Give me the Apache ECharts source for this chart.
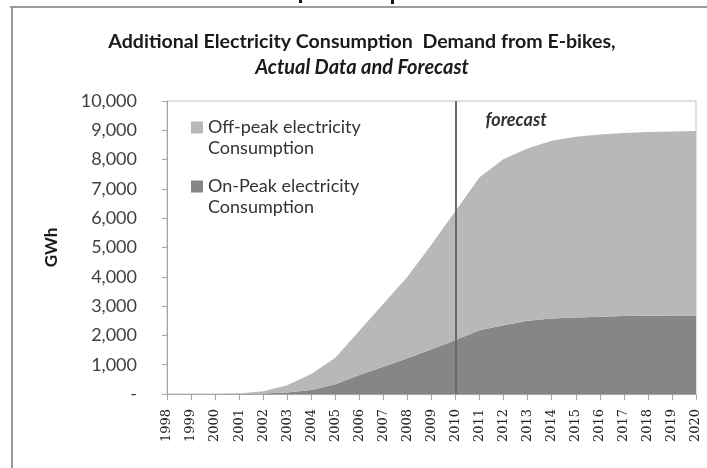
<!DOCTYPE html>
<html>
<head>
<meta charset="utf-8">
<script src="https://cdn.jsdelivr.net/npm/echarts@6/dist/echarts.min.js"></script>
<style>html,body{margin:0;padding:0;background:#fff;}#c{width:707px;height:468px;}</style>
</head>
<body>
<div id="c"></div>
<script>
var years = ['1998','1999','2000','2001','2002','2003','2004','2005','2006','2007','2008','2009','2010','2011','2012','2013','2014','2015','2016','2017','2018','2019','2020'];
var onPeak = [0,0,0,5,15,50,140,330,650,930,1220,1530,1840,2180,2350,2500,2580,2615,2640,2660,2670,2680,2680];
var offPeak = [0,0,0,15,75,250,540,910,1510,2150,2780,3570,4410,5220,5670,5880,6060,6165,6220,6250,6270,6280,6300];
var yTicks = [0,1000,2000,3000,4000,5000,6000,7000,8000,9000,10000];
var forecastYear = '2010';
var titleText = 'Additional Electricity Consumption  Demand from E-bikes,';
var subtitleText = 'Actual Data and Forecast';
var offName = 'Off-peak electricity\nConsumption';
var onName = 'On-Peak electricity\nConsumption';

var chart = echarts.init(document.getElementById('c'));
var font = 'Lato, "Open Sans", sans-serif';
var legendIcon = 'path://M0,0h12v12h-12zM0,33h0.01v0.01h-0.01z';
chart.setOption({
  animation: false,
  backgroundColor: '#fff',
  title: {
    text: titleText,
    subtext: subtitleText,
    left: 357,
    textAlign: 'center',
    top: 27,
    itemGap: 6,
    textStyle: {fontFamily: font, fontSize: 19.6, fontWeight: 'bold', color: '#1a1a1a'},
    subtextStyle: {fontFamily: font, fontSize: 20, fontWeight: 'bold', fontStyle: 'italic', color: '#1a1a1a'}
  },
  legend: {
    data: [offName, onName],
    orient: 'vertical',
    left: 186,
    top: 112,
    itemGap: 17,
    itemWidth: 12,
    itemHeight: 33,
    icon: legendIcon,
    textStyle: {fontFamily: font, fontSize: 18, color: '#333', lineHeight: 21}
  },
  grid: {left: 167, right: 11, top: 101, bottom: 74, show: true, borderColor: '#c4c4c4', borderWidth: 1},
  xAxis: {
    type: 'category',
    data: years,
    boundaryGap: false,
    axisLine: {lineStyle: {color: '#a6a6a6'}},
    axisTick: {show: true, interval: 0, length: 6, lineStyle: {color: '#a6a6a6'}},
    axisLabel: {interval: 0, rotate: 90, margin: 15, fontFamily: '"DejaVu Serif", serif', fontSize: 13, color: '#222'},
    splitLine: {show: false}
  },
  yAxis: {
    type: 'value',
    min: yTicks[0],
    max: yTicks[yTicks.length - 1],
    interval: 1000,
    name: 'GWh',
    nameLocation: 'middle',
    nameGap: 107,
    nameRotate: 90,
    nameTextStyle: {fontFamily: font, fontSize: 17, fontWeight: 'bold', color: '#1a1a1a'},
    axisLine: {show: true, lineStyle: {color: '#a6a6a6'}},
    axisTick: {show: true, length: 5, lineStyle: {color: '#a6a6a6'}},
    axisLabel: {
      margin: 30,
      fontFamily: font, fontSize: 18, color: '#404040',
      formatter: function (v) { return v === 0 ? '-' : v.toLocaleString('en-US'); }
    },
    splitLine: {show: false}
  },
  series: [
    {
      name: onName,
      type: 'line',
      stack: 'total',
      data: onPeak,
      symbol: 'none',
      lineStyle: {width: 0},
      itemStyle: {color: '#868686'},
      areaStyle: {color: '#868686', opacity: 1},
      z: 2
    },
    {
      name: offName,
      type: 'line',
      stack: 'total',
      data: offPeak,
      symbol: 'none',
      lineStyle: {width: 0},
      itemStyle: {color: '#b8b8b8'},
      areaStyle: {color: '#b8b8b8', opacity: 1},
      z: 2,
      markLine: {
        silent: true,
        symbol: 'none',
        label: {show: false},
        lineStyle: {color: '#6b6b6b', width: 2, type: 'solid'},
        data: [[{coord: [forecastYear, 0]}, {coord: [forecastYear, 10000]}]],
        z: 5
      },
      markPoint: {
        symbol: 'circle',
        symbolSize: 0,
        silent: true,
        data: [{coord: [forecastYear, 9350], label: {show: true, formatter: 'forecast', position: 'right', distance: 30, fontFamily: font, fontSize: 18, fontWeight: 'bold', fontStyle: 'italic', color: '#333'}}]
      }
    }
  ],
  graphic: [
    {type: 'rect', shape: {x: 10, y: 6, width: 697, height: 2}, style: {fill: '#9a9a9a'}},
    {type: 'rect', shape: {x: 11, y: 6, width: 2, height: 462}, style: {fill: '#9a9a9a'}},
    {type: 'rect', shape: {x: 299, y: 0, width: 3, height: 3}, style: {fill: '#111'}},
    {type: 'rect', shape: {x: 391, y: 0, width: 3, height: 4}, style: {fill: '#111'}}
  ]
});
</script>
</body>
</html>
